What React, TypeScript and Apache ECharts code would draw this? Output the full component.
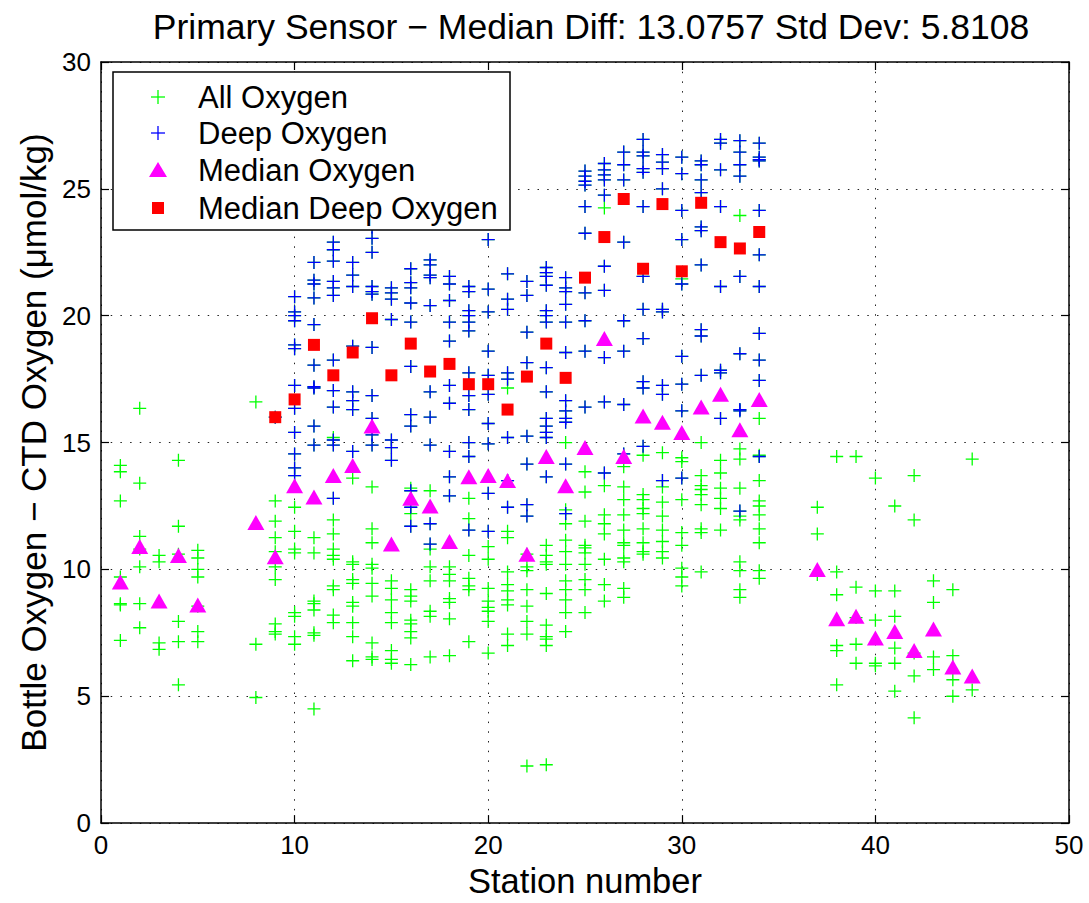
import React, { useEffect, useRef } from "react";
import * as echarts from "echarts";

// ---------- DATA ----------
const titleText = "Primary Sensor − Median Diff: 13.0757 Std Dev: 5.8108";
const xAxisName = "Station number";
const yAxisName = "Bottle Oxygen − CTD Oxygen (μmol/kg)";
const seriesNames = ["All Oxygen", "Deep Oxygen", "Median Oxygen", "Median Deep Oxygen"];

// All-oxygen samples that are not deep samples: [station, values]
const allOnlyStations = [1, 2, 3, 4, 5, 8, 9, 10, 11, 12, 13, 14, 15, 16, 17, 18, 19, 20, 21, 22, 23, 24, 25, 26, 27, 28, 29, 30, 31, 32, 33, 34, 37, 38, 39, 40, 41, 42, 43, 44, 45];
const allOnlyValues: number[][] = [
  [14.1, 13.85, 12.7, 9.7, 8.65, 8.6, 7.2],
  [16.35, 13.4, 11.3, 10.8, 10.1, 8.65, 7.7],
  [10.55, 10.3, 7.1, 6.85],
  [14.3, 11.7, 10.6, 7.95, 7.15, 5.45],
  [10.75, 10.45, 10.0, 9.7, 8.55, 7.55, 7.15],
  [16.6, 7.05, 4.95],
  [12.7, 11.9, 11.25, 10.7, 10.1, 9.6, 7.85, 7.55, 7.45],
  [12.45, 11.5, 10.8, 10.65, 8.3, 8.15, 7.35, 7.05],
  [11.25, 10.65, 8.75, 8.65, 8.4, 7.5, 7.4, 4.5],
  [15.2, 11.95, 11.4, 10.8, 10.55, 10.4, 9.35, 9.2, 8.2, 7.9],
  [13.6, 10.3, 10.2, 9.6, 9.45, 8.7, 8.55, 7.9, 7.35, 6.4],
  [13.25, 11.6, 11.05, 10.2, 10.05, 9.45, 8.95, 7.1, 6.55, 6.45],
  [9.55, 9.25, 8.8, 8.3, 7.9, 6.8, 6.45, 6.3],
  [13.2, 12.2, 9.2, 8.95, 8.75, 8.0, 7.85, 7.55, 7.3, 6.25],
  [13.1, 10.8, 10.1, 9.55, 8.35, 8.15, 6.55],
  [10.1, 9.8, 9.55, 8.85, 8.7, 8.05, 6.6],
  [12.8, 12.0, 10.55, 9.65, 9.35, 9.2, 7.15],
  [10.9, 10.4, 9.25, 8.75, 8.5, 8.35, 7.95, 6.7],
  [17.15, 11.5, 11.25, 9.9, 9.4, 9.15, 8.8, 8.6, 7.45, 7.0],
  [10.6, 10.1, 9.95, 9.2, 8.55, 7.95, 7.45, 2.25],
  [10.95, 10.55, 10.3, 10.2, 9.05, 7.8, 7.35, 7.25, 7.0, 2.3],
  [15.0, 12.35, 11.8, 11.15, 10.7, 10.2, 9.55, 9.2, 8.8, 8.3, 7.55],
  [13.85, 13.05, 11.9, 10.95, 10.85, 10.65, 10.2, 9.6, 9.2, 8.3],
  [24.25, 13.3, 12.15, 11.8, 11.4, 10.4, 9.4, 8.75],
  [14.05, 13.25, 12.75, 12.15, 11.55, 11.05, 10.95, 10.45, 10.3, 9.25, 8.9],
  [14.5, 12.95, 12.75, 12.4, 12.2, 11.6, 11.05, 10.7, 10.6],
  [14.6, 13.25, 12.65, 12.1, 11.55, 11.1, 10.7, 10.45],
  [21.45, 14.4, 14.25, 12.75, 11.45, 10.95, 10.05, 9.7, 9.35],
  [15.0, 13.7, 13.3, 13.15, 12.95, 12.55, 11.6, 11.45, 9.9],
  [14.3, 13.8, 13.2, 12.8, 12.4, 11.55],
  [23.95, 14.75, 14.35, 13.2, 12.1, 11.95, 10.3, 9.95, 9.2, 8.9],
  [15.95, 14.5, 13.5, 12.7, 12.5, 12.15, 11.6, 11.05, 9.95, 9.65],
  [12.45, 11.4, 9.8],
  [14.45, 9.9, 9.0, 7.0, 6.8, 5.45],
  [14.45, 9.3, 8.1, 7.05, 6.3],
  [13.6, 9.15, 8.0, 6.3, 6.2],
  [12.5, 9.15, 8.15, 6.9, 6.3, 5.2],
  [13.7, 11.95, 6.7, 5.8, 4.15],
  [9.55, 8.7, 6.55, 6.05],
  [9.2, 6.6, 5.65, 5.0],
  [14.35, 5.25],
];

// Deep-oxygen samples
const deepStations = [9, 10, 11, 12, 13, 14, 15, 16, 17, 18, 19, 20, 21, 22, 23, 24, 25, 26, 27, 28, 29, 30, 31, 32, 33, 34];
const deepValues: number[][] = [
  [16.0],
  [20.75, 20.15, 20.0, 19.8, 18.85, 18.7, 17.25, 16.35, 15.4, 14.55, 14.0, 13.7],
  [22.1, 21.4, 21.25, 20.7, 19.65, 18.05, 17.2, 17.15, 15.65, 14.9],
  [22.9, 22.6, 22.15, 21.35, 21.1, 20.8, 18.25, 17.05, 16.4, 15.1, 14.9, 12.8],
  [22.1, 21.6, 21.15, 18.8, 17.0, 16.65, 16.3, 14.65],
  [23.5, 23.05, 22.5, 21.15, 20.95, 20.85, 18.75, 16.85, 15.95, 15.3, 14.9],
  [21.1, 20.9, 20.65, 19.85, 15.1, 14.8, 14.3],
  [21.85, 21.3, 21.1, 20.5, 19.75, 18.0, 16.1, 15.65, 13.1, 12.45, 11.7],
  [22.2, 22.0, 21.6, 21.5, 20.4, 17.0, 16.0, 14.9, 11.8, 11.0],
  [21.55, 21.25, 20.6, 19.75, 19.0, 17.25, 16.55, 14.65, 13.65, 12.9],
  [21.15, 20.95, 20.2, 20.0, 19.75, 19.4, 17.75, 16.85, 16.3, 15.0, 14.45, 11.55],
  [23.0, 21.05, 20.15, 18.6, 17.65, 16.9, 15.75, 14.95, 13.0, 11.5],
  [21.65, 20.65, 20.25, 17.75, 17.5, 15.2, 13.5, 12.45],
  [21.35, 20.8, 19.35, 18.15, 15.25, 14.15, 12.55, 12.1],
  [21.9, 21.7, 21.55, 21.2, 20.2, 20.0, 19.75, 17.95, 17.0, 15.95, 15.65, 15.4, 15.2, 13.65],
  [21.5, 21.1, 20.95, 20.45, 19.75, 18.55, 16.65, 16.25, 15.95, 15.8, 14.15, 12.2],
  [25.7, 25.5, 25.3, 25.15, 24.3, 23.25, 20.9, 19.8, 18.6, 16.4],
  [26.0, 25.75, 25.55, 25.35, 24.75, 21.95, 21.0, 18.35, 16.6, 13.8],
  [26.45, 25.95, 25.35, 22.9, 19.8, 18.6, 16.5, 14.55],
  [26.95, 26.45, 26.3, 25.8, 25.65, 24.3, 21.55, 20.25, 19.1, 17.4, 17.15, 14.85],
  [26.35, 26.05, 25.8, 25.0, 20.25, 20.15, 17.25, 16.9, 13.5],
  [26.25, 25.6, 24.15, 23.0, 21.25, 18.4, 17.3, 16.25, 13.6],
  [26.1, 25.95, 25.35, 24.85, 23.5, 23.35, 22.0, 19.45, 19.2, 17.65],
  [26.95, 26.8, 25.75, 24.3, 21.15, 17.85, 17.75, 15.95],
  [26.9, 26.45, 25.95, 25.5, 21.55, 18.5, 16.3, 16.25, 12.3],
  [26.8, 26.25, 26.15, 26.1, 24.15, 22.4, 21.15, 19.3, 18.25, 17.45, 14.45],
];

// Median oxygen per station
const medianStations = [1, 2, 3, 4, 5, 8, 9, 10, 11, 12, 13, 14, 15, 16, 17, 18, 19, 20, 21, 22, 23, 24, 25, 26, 27, 28, 29, 30, 31, 32, 33, 34, 37, 38, 39, 40, 41, 42, 43, 44, 45];
const medianValues = [9.5, 10.9, 8.75, 10.55, 8.6, 11.85, 10.5, 13.3, 12.85, 13.7, 14.1, 15.65, 11.0, 12.8, 12.5, 11.1, 13.65, 13.7, 13.5, 10.6, 14.45, 13.3, 14.8, 19.1, 14.45, 16.05, 15.8, 15.4, 16.4, 16.9, 15.5, 16.7, 10.0, 8.05, 8.15, 7.3, 7.55, 6.8, 7.65, 6.15, 5.8];

// Median deep oxygen per station
const medianDeepStations = [9, 10, 11, 12, 13, 14, 15, 16, 17, 18, 19, 20, 21, 22, 23, 24, 25, 26, 27, 28, 29, 30, 31, 32, 33, 34];
const medianDeepValues = [16.0, 16.7, 18.85, 17.65, 18.55, 19.9, 17.65, 18.9, 17.8, 18.1, 17.3, 17.3, 16.3, 17.6, 18.9, 17.55, 21.5, 23.1, 24.6, 21.85, 24.4, 21.75, 24.45, 22.9, 22.65, 23.3];

const xTicks = { min: 0, max: 50, interval: 10 };
const yTicks = { min: 0, max: 30, interval: 5 };

// ---------- STYLE ----------
const FONT = "'Liberation Sans', Arial, Helvetica, sans-serif";
const GREEN = "#00ff00";
const BLUE = "#0000ff";
const MAGENTA = "#ff00ff";
const RED = "#ff0000";
const PLUS = "path://M0,6H12M6,0V12";

function flatten(stations: number[], values: number[][]) {
  const out: number[][] = [];
  stations.forEach((s, i) => values[i].forEach((v) => out.push([s, v])));
  return out;
}

export default function App() {
  const ref = useRef<HTMLDivElement>(null);

  useEffect(() => {
    if (!ref.current) return;
    const chart = echarts.init(ref.current, undefined, { renderer: "svg" });

    const deepPts = flatten(deepStations, deepValues);
    const allPts = flatten(allOnlyStations, allOnlyValues).concat(deepPts);
    const medPts = medianStations.map((s, i) => [s, medianValues[i]]);
    const medDeepPts = medianDeepStations.map((s, i) => [s, medianDeepValues[i]]);

    const gridLine = { show: true, lineStyle: { color: "#222", width: 1, type: [1.5, 8.2] as any } };
    const axisLine = { show: true, onZero: false, lineStyle: { color: "#000", width: 1.5 } };
    const tick = { show: true, inside: true, length: 8, lineStyle: { color: "#000", width: 1.2 } };
    const label = { fontSize: 26, color: "#000", fontFamily: FONT };

    const lx = 158;
    const rows = [97, 133, 170, 208];
    const plusEls = (cy: number, color: string) => [
      { type: "line", z: 101, shape: { x1: lx - 7, y1: cy, x2: lx + 7, y2: cy }, style: { stroke: color, lineWidth: 1.3 } },
      { type: "line", z: 101, shape: { x1: lx, y1: cy - 7, x2: lx, y2: cy + 7 }, style: { stroke: color, lineWidth: 1.3 } },
    ];

    chart.setOption({
      animation: false,
      backgroundColor: "#fff",
      title: {
        text: titleText,
        left: 586,
        top: 4,
        textAlign: "center",
        textStyle: { fontSize: 35.5, fontWeight: "normal", color: "#000", fontFamily: FONT },
      },
      grid: { left: 101, right: 20, top: 62, bottom: 77, containLabel: false },
      xAxis: [
        {
          type: "value", ...xTicks, position: "bottom",
          name: xAxisName, nameLocation: "middle", nameGap: 33,
          nameTextStyle: { fontSize: 34.5, color: "#000", fontFamily: FONT },
          axisLine, axisTick: tick, splitLine: gridLine,
          axisLabel: { ...label, margin: 9 },
        },
        {
          type: "value", ...xTicks, position: "top",
          axisLine, axisTick: tick, splitLine: { show: false }, axisLabel: { show: false },
        },
      ],
      yAxis: [
        {
          type: "value", ...yTicks, position: "left",
          name: yAxisName, nameLocation: "middle", nameGap: 47,
          nameTextStyle: { fontSize: 35, color: "#000", fontFamily: FONT },
          axisLine, axisTick: tick, splitLine: gridLine,
          axisLabel: { ...label, margin: 10 },
        },
        {
          type: "value", ...yTicks, position: "right",
          axisLine, axisTick: tick, splitLine: { show: false }, axisLabel: { show: false },
        },
      ],
      series: [
        {
          name: seriesNames[0], type: "scatter", data: allPts, symbol: PLUS, symbolSize: 13,
          itemStyle: { color: "rgba(0,0,0,0)", borderColor: GREEN, borderWidth: 1.3, opacity: 1 }, z: 2,
        },
        {
          name: seriesNames[1], type: "scatter", data: deepPts, symbol: PLUS, symbolSize: 13,
          itemStyle: { color: "rgba(0,0,0,0)", borderColor: BLUE, borderWidth: 1.3, opacity: 1 }, z: 3,
        },
        {
          name: seriesNames[2], type: "scatter", data: medPts, symbol: "triangle", symbolSize: [17, 15],
          itemStyle: { color: MAGENTA, opacity: 1 }, z: 4,
        },
        {
          name: seriesNames[3], type: "scatter", data: medDeepPts, symbol: "rect", symbolSize: 12,
          itemStyle: { color: RED, opacity: 1 }, z: 5,
        },
      ],
      graphic: [
        { type: "rect", z: 100, shape: { x: 113, y: 72, width: 397, height: 158 }, style: { fill: "#fff", stroke: "#000", lineWidth: 1.5 } },
        ...plusEls(rows[0], GREEN),
        ...plusEls(rows[1], BLUE),
        { type: "polygon", z: 101, shape: { points: [[lx - 9, rows[2] + 7], [lx + 9, rows[2] + 7], [lx, rows[2] - 8]] }, style: { fill: MAGENTA } },
        { type: "rect", z: 101, shape: { x: lx - 6, y: rows[3] - 6, width: 12, height: 12 }, style: { fill: RED } },
        ...seriesNames.map((n, i) => ({
          type: "text", z: 101, x: 198, y: rows[i],
          style: { text: n, fontSize: 31, fill: "#000", fontFamily: FONT, textVerticalAlign: "middle", verticalAlign: "middle" },
        })),
      ],
    });

    return () => chart.dispose();
  }, []);

  return <div ref={ref} style={{ position: "absolute", left: 0, top: 0, width: 1089, height: 903 }} />;
}
